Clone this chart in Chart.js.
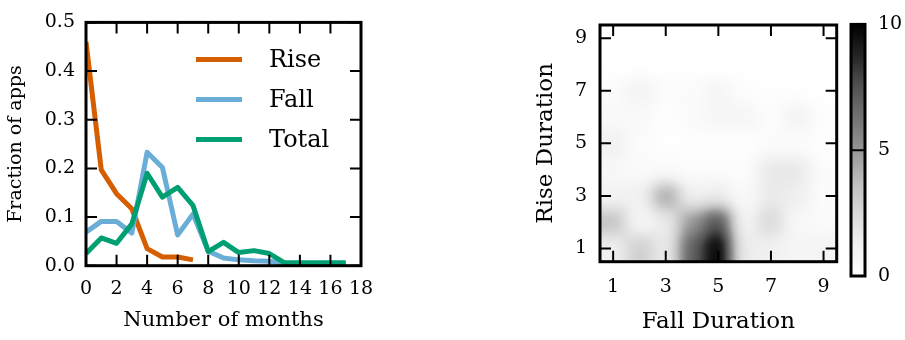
<!DOCTYPE html>
<html>
<head>
<meta charset="utf-8">
<script src="https://cdn.jsdelivr.net/npm/chart.js@4.4.1/dist/chart.umd.min.js"></script>
<style>
  html, body { margin: 0; padding: 0; background: #fff; }
  body { width: 905px; height: 340px; position: relative; overflow: hidden; }
  canvas { position: absolute; top: 0; }
  #lines { left: 0; }
  #heat { left: 470px; }
  #cbar { left: 845px; }
</style>
</head>
<body>
<canvas id="lines" width="450" height="340"></canvas>
<canvas id="heat" width="375" height="340"></canvas>
<canvas id="cbar" width="60" height="340"></canvas>
<script>
// ---- Left panel: distribution of rise / fall / total durations ----
const months = [0, 1, 2, 3, 4, 5, 6, 7, 8, 9, 10, 11, 12, 13, 14, 15, 16, 17];
const riseFrac  = [0.46, 0.197, 0.148, 0.117, 0.035, 0.018, 0.018, 0.012];
const fallFrac  = [0.069, 0.091, 0.091, 0.067, 0.233, 0.202, 0.063, 0.106, 0.030, 0.016,
                   0.012, 0.010, 0.009, 0.005, 0.004, 0.004, 0.004, 0.004];
const totalFrac = [0.025, 0.057, 0.046, 0.086, 0.190, 0.141, 0.161, 0.124, 0.029, 0.048,
                   0.027, 0.031, 0.025, 0.006, 0.006, 0.006, 0.006, 0.006];
const seriesNames = ['Rise', 'Fall', 'Total'];
const seriesColors = ['#d55e00', '#6aaed8', '#009e73'];
const monthTicks = [0, 2, 4, 6, 8, 10, 12, 14, 16, 18];
const fracTicks = [0, 0.1, 0.2, 0.3, 0.4, 0.5];

// ---- Right panel: rise duration vs fall duration counts ----
const fallDurations = [1, 2, 3, 4, 5, 6, 7, 8, 9];
const riseDurations = [1, 2, 3, 4, 5, 6, 7, 8, 9];
// rows: rise duration 1..9, columns: fall duration 1..9
const riseFallCounts = [
  [1.2, 3.0, 1.5, 7.0, 10.0, 1.5, 1.2, 0.8, 0.9],
  [3.5, 0.8, 1.5, 5.0, 7.5, 1.0, 2.5, 0.6, 0.4],
  [1.0, 1.2, 4.5, 1.2, 1.5, 0.5, 1.6, 1.3, 0.3],
  [0.6, 0.4, 0.4, 0.3, 0.3, 0.2, 1.7, 1.7, 0.3],
  [1.2, 0.3, 0.1, 0.1, 0.1, 0.1, 0.3, 0.3, 0.1],
  [0.5, 0.5, 0.1, 0.4, 0.8, 0.8, 0.2, 1.0, 0.2],
  [0.3, 1.0, 0.3, 0.3, 0.8, 0.2, 0.1, 0.1, 0.0],
  [0.0, 0.0, 0.0, 0.0, 0.0, 0.0, 0.0, 0.0, 0.0],
  [0.0, 0.0, 0.0, 0.0, 0.0, 0.0, 0.0, 0.0, 0.0]
];
const durationTicks = [1, 3, 5, 7, 9];
const countMax = 10;
const countTicks = [0, 5, 10];

// Greys colour map (white -> black)
const greyStops = ['#ffffff', '#f0f0f0', '#d9d9d9', '#bdbdbd', '#969696',
                   '#737373', '#525252', '#252525', '#000000'];
function hexRgb(h) { return [1, 3, 5].map(i => parseInt(h.substr(i, 2), 16)); }
const greyRgb = greyStops.map(hexRgb);
function greysRgb(t) {
  t = Math.max(0, Math.min(1, t));
  const p = t * (greyRgb.length - 1);
  const i = Math.min(Math.floor(p), greyRgb.length - 2);
  const f = p - i;
  const a = greyRgb[i], b = greyRgb[i + 1];
  return a.map((v, k) => Math.round(v + (b[k] - v) * f));
}

Chart.defaults.font.family = "'DejaVu Serif', serif";
Chart.defaults.color = '#000';
Chart.defaults.animation = false;
Chart.defaults.plugins.legend.display = false;
Chart.defaults.plugins.tooltip.enabled = false;

const TICK_LEN = 11;

// frame around the plot area with inward ticks on all four sides
const frameTicks = {
  id: 'frameTicks',
  afterDraw(chart) {
    const { ctx, chartArea: a } = chart;
    const xs = chart.scales.x, ys = chart.scales.y;
    ctx.save();
    ctx.strokeStyle = '#000';
    ctx.lineWidth = 2;
    ctx.beginPath();
    xs.ticks.forEach((t, i) => {
      const px = xs.getPixelForTick(i);
      ctx.moveTo(px, a.bottom); ctx.lineTo(px, a.bottom - TICK_LEN);
      ctx.moveTo(px, a.top); ctx.lineTo(px, a.top + TICK_LEN);
    });
    ys.ticks.forEach((t, i) => {
      const py = ys.getPixelForTick(i);
      ctx.moveTo(a.left, py); ctx.lineTo(a.left + TICK_LEN, py);
      ctx.moveTo(a.right, py); ctx.lineTo(a.right - TICK_LEN, py);
    });
    ctx.stroke();
    ctx.lineWidth = 3;
    ctx.strokeRect(a.left, a.top, a.right - a.left, a.bottom - a.top);
    ctx.restore();
  }
};

// legend with line samples inside the plot area
const lineLegend = {
  id: 'lineLegend',
  afterDatasetsDraw(chart) {
    const { ctx, chartArea: a } = chart;
    ctx.save();
    ctx.font = "24px 'DejaVu Serif', serif";
    ctx.textBaseline = 'middle';
    ctx.textAlign = 'left';
    seriesNames.forEach((name, i) => {
      const ds = chart.data.datasets.find(d => d.label === name);
      const y = a.top + 37 + i * 40;
      ctx.strokeStyle = ds.borderColor;
      ctx.lineWidth = 5;
      ctx.beginPath();
      ctx.moveTo(a.left + 110, y);
      ctx.lineTo(a.left + 156, y);
      ctx.stroke();
      ctx.fillStyle = '#000';
      ctx.fillText(name, a.left + 183, y + 1);
    });
    ctx.restore();
  }
};

const toPoints = vals => vals.map((v, i) => ({ x: months[i], y: v }));
const seriesVals = [riseFrac, fallFrac, totalFrac];

new Chart(document.getElementById('lines'), {
  type: 'line',
  data: {
    // Total drawn on top, then Fall, then Rise
    datasets: [2, 1, 0].map(k => ({
      label: seriesNames[k],
      data: toPoints(seriesVals[k]),
      borderColor: seriesColors[k],
      borderWidth: 5,
      pointRadius: 0,
      tension: 0,
      borderJoinStyle: 'round',
      fill: false
    }))
  },
  options: {
    responsive: false,
    layout: { padding: { left: 0, top: 20.7, right: 89, bottom: 0 } },
    scales: {
      x: {
        type: 'linear', min: 0, max: 18,
        afterBuildTicks: s => { s.ticks = monthTicks.map(v => ({ value: v })); },
        afterFit: s => { s.height = 74.3; },
        grid: { display: false, drawTicks: false },
        border: { display: false },
        ticks: { padding: 11.9, maxRotation: 0, autoSkip: false, font: { size: 19 } },
        title: { display: true, text: 'Number of months', font: { size: 21 }, padding: { top: 0, bottom: 6.9 } }
      },
      y: {
        type: 'linear', min: 0, max: 0.5,
        afterBuildTicks: s => { s.ticks = fracTicks.map(v => ({ value: v })); },
        afterFit: s => { s.width = 86; },
        grid: { display: false, drawTicks: false },
        border: { display: false },
        ticks: { padding: 11, font: { size: 19 }, callback: v => Number(v).toFixed(1) },
        title: { display: true, text: 'Fraction of apps', font: { size: 19 }, padding: { top: 5, bottom: 0 } }
      }
    }
  },
  plugins: [lineLegend, frameTicks]
});

// separable gaussian smoothing of a value field (edges clamped)
function gaussSmooth(src, w, h, sigma) {
  const r = Math.ceil(sigma * 3);
  const k = [];
  let sum = 0;
  for (let i = -r; i <= r; i++) { const v = Math.exp(-i * i / (2 * sigma * sigma)); k.push(v); sum += v; }
  for (let i = 0; i < k.length; i++) k[i] /= sum;
  const tmp = new Float32Array(w * h), out = new Float32Array(w * h);
  for (let y = 0; y < h; y++) {
    for (let x = 0; x < w; x++) {
      let s = 0;
      for (let i = -r; i <= r; i++) {
        const xx = Math.min(w - 1, Math.max(0, x + i));
        s += src[y * w + xx] * k[i + r];
      }
      tmp[y * w + x] = s;
    }
  }
  for (let y = 0; y < h; y++) {
    for (let x = 0; x < w; x++) {
      let s = 0;
      for (let i = -r; i <= r; i++) {
        const yy = Math.min(h - 1, Math.max(0, y + i));
        s += tmp[yy * w + x] * k[i + r];
      }
      out[y * w + x] = s;
    }
  }
  return out;
}

// smoothed heat map of the count grid, sampled through the chart scales
const heatLayer = {
  id: 'heatLayer',
  beforeDatasetsDraw(chart) {
    const { ctx, chartArea: a } = chart;
    const xs = chart.scales.x, ys = chart.scales.y;
    const cells = chart.data.datasets[0].data;
    const lookup = {};
    cells.forEach(c => { lookup[c.x + ',' + c.y] = c.v; });
    const x0 = Math.floor(a.left), y0 = Math.floor(a.top);
    const w = Math.ceil(a.right) - x0, h = Math.ceil(a.bottom) - y0;
    const field = new Float32Array(w * h);
    const clampTo = (v, arr) => Math.min(arr[arr.length - 1], Math.max(arr[0], Math.round(v)));
    const colOf = [], rowOf = [];
    for (let px = 0; px < w; px++) colOf.push(clampTo(xs.getValueForPixel(x0 + px + 0.5), fallDurations));
    for (let py = 0; py < h; py++) rowOf.push(clampTo(ys.getValueForPixel(y0 + py + 0.5), riseDurations));
    for (let py = 0; py < h; py++) {
      for (let px = 0; px < w; px++) {
        field[py * w + px] = lookup[colOf[px] + ',' + rowOf[py]] || 0;
      }
    }
    const smooth = gaussSmooth(field, w, h, 8);
    const off = document.createElement('canvas');
    off.width = w; off.height = h;
    const o = off.getContext('2d');
    const img = o.createImageData(w, h);
    for (let i = 0; i < w * h; i++) {
      const c = greysRgb(smooth[i] / countMax);
      img.data[4 * i] = c[0]; img.data[4 * i + 1] = c[1]; img.data[4 * i + 2] = c[2]; img.data[4 * i + 3] = 255;
    }
    o.putImageData(img, 0, 0);
    ctx.drawImage(off, x0, y0);
  }
};

const cellData = [];
riseFallCounts.forEach((row, r) => row.forEach((v, c) => {
  cellData.push({ x: fallDurations[c], y: riseDurations[r], v: v });
}));

new Chart(document.getElementById('heat'), {
  type: 'scatter',
  data: { datasets: [{ data: cellData, pointRadius: 0, pointHoverRadius: 0 }] },
  options: {
    responsive: false,
    layout: { padding: { left: 0, top: 25, right: 8.3, bottom: 0 } },
    scales: {
      x: {
        type: 'linear', min: 0.5, max: 9.5,
        afterBuildTicks: s => { s.ticks = durationTicks.map(v => ({ value: v })); },
        afterFit: s => { s.height = 78.3; },
        grid: { display: false, drawTicks: false },
        border: { display: false },
        ticks: { padding: 13.9, maxRotation: 0, autoSkip: false, font: { size: 19 } },
        title: { display: true, text: 'Fall Duration', font: { size: 23 }, padding: { top: 0, bottom: 4.2 } }
      },
      y: {
        type: 'linear', min: 0.5, max: 9.5,
        afterBuildTicks: s => { s.ticks = durationTicks.map(v => ({ value: v })); },
        afterFit: s => { s.width = 130; },
        grid: { display: false, drawTicks: false },
        border: { display: false },
        ticks: { padding: 13, font: { size: 19 } },
        title: { display: true, text: 'Rise Duration', font: { size: 23 }, padding: { top: 62.2, bottom: 0 } }
      }
    }
  },
  plugins: [heatLayer, frameTicks]
});

// colour bar for the count scale
const colorBar = {
  id: 'colorBar',
  beforeDatasetsDraw(chart) {
    const { ctx, chartArea: a } = chart;
    const ys = chart.scales.y;
    const yLo = ys.getPixelForValue(0), yHi = ys.getPixelForValue(countMax);
    const g = ctx.createLinearGradient(0, yLo, 0, yHi);
    greyStops.forEach((c, i) => g.addColorStop(i / (greyStops.length - 1), c));
    ctx.save();
    ctx.fillStyle = g;
    ctx.fillRect(a.left, yHi, a.right - a.left, yLo - yHi);
    ctx.strokeStyle = '#000';
    ctx.lineWidth = 2;
    ctx.beginPath();
    ys.ticks.forEach((t, i) => {
      const py = ys.getPixelForTick(i);
      ctx.moveTo(a.left, py); ctx.lineTo(a.right, py);
    });
    ctx.stroke();
    ctx.lineWidth = 3;
    ctx.strokeRect(a.left, yHi, a.right - a.left, yLo - yHi);
    ctx.restore();
  }
};

new Chart(document.getElementById('cbar'), {
  type: 'scatter',
  data: { datasets: [{ data: [], pointRadius: 0 }] },
  options: {
    responsive: false,
    layout: { padding: { left: 6, top: 11, right: 0, bottom: 64 } },
    scales: {
      x: { type: 'linear', display: false },
      y: {
        type: 'linear', position: 'right', min: 0, max: countMax,
        afterBuildTicks: s => { s.ticks = countTicks.map(v => ({ value: v })); },
        afterFit: s => { s.width = 40; },
        grid: { display: false, drawTicks: false },
        border: { display: false },
        ticks: { padding: 13, font: { size: 19 } }
      }
    }
  },
  plugins: [colorBar]
});
</script>
</body>
</html>
